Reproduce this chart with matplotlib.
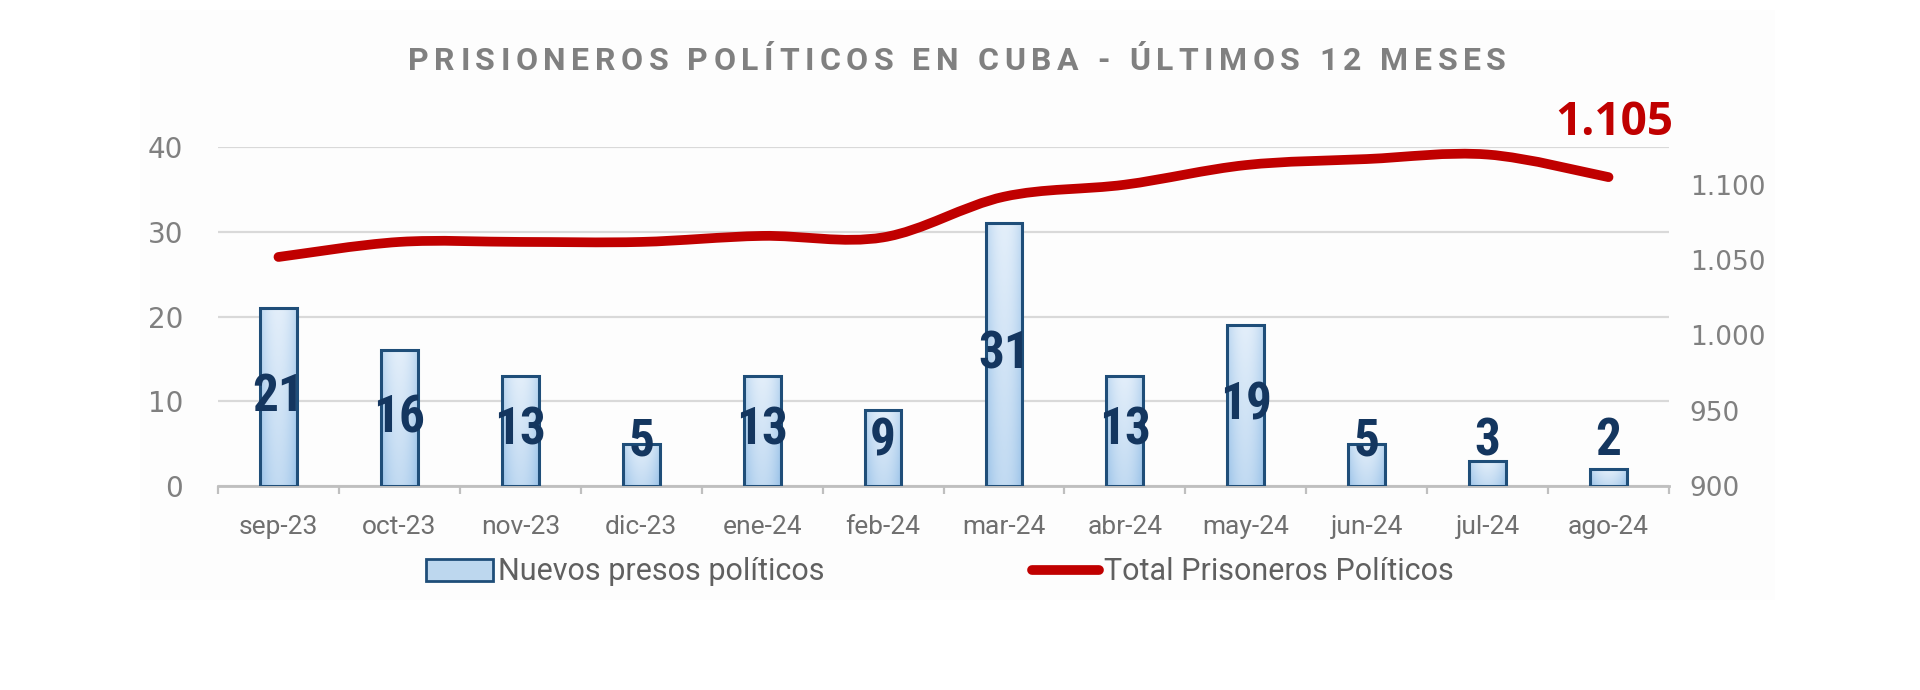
import numpy as np
import matplotlib
matplotlib.use("Agg")
import matplotlib.pyplot as plt
from matplotlib import font_manager as fm
from matplotlib.path import Path
from matplotlib.patches import PathPatch, Rectangle
from matplotlib.lines import Line2D
from matplotlib.ticker import FuncFormatter

# ---------------- data ----------------
meses = ["sep-23", "oct-23", "nov-23", "dic-23", "ene-24", "feb-24",
         "mar-24", "abr-24", "may-24", "jun-24", "jul-24", "ago-24"]
nuevos = [21, 16, 13, 5, 13, 9, 31, 13, 19, 5, 3, 2]
total = [1052, 1062, 1062, 1062, 1066, 1065, 1092, 1100, 1113, 1117, 1120, 1105]
titulo = "PRISIONEROS POLÍTICOS EN CUBA - ÚLTIMOS 12 MESES"
serie_barras = "Nuevos presos políticos"
serie_linea = "Total Prisoneros Políticos"
ticks_izq = [0, 10, 20, 30, 40]
ticks_der = [900, 950, 1000, 1050, 1100]

# ---------------- fonts ----------------
available = {f.name for f in fm.fontManager.ttflist}


def pick(*names):
    for n in names:
        if n in available:
            return n
    return "DejaVu Sans"


F_MAIN = pick("Roboto", "Open Sans", "DejaVu Sans")
F_NARROW = pick("Liberation Sans Narrow", "Roboto Condensed", "Roboto")
F_NUM = pick("DejaVu Sans")
F_RED = pick("Open Sans", "Roboto")

GREY_TXT = "#808080"
GRID = "#d9d9d9"
AXIS = "#bfbfbf"
NAVY = "#1f4e79"
LABEL = "#14365f"
RED = "#c00000"
BAR_FILL = "#bdd7ee"

W, H = 1920, 690
fig = plt.figure(figsize=(W / 100, H / 100), dpi=100)
fig.patch.set_facecolor("white")

# very light panel behind the chart
fig.add_artist(Rectangle((140 / W, 1 - 600 / H), (1775 - 140) / W, (600 - 10) / H,
                         transform=fig.transFigure, facecolor="#fdfdfd",
                         edgecolor="none", zorder=0))

ax = fig.add_axes([218 / W, 1 - 486 / H, (1669 - 218) / W, (486 - 147) / H])
ax.set_facecolor("none")
x = np.arange(len(meses))
bw = 0.305

bars = ax.bar(x, nuevos, width=bw, color=BAR_FILL, edgecolor="none", zorder=2)

# gradient fill inside bars
u = np.linspace(-1, 1, 40)[None, :]
v = np.linspace(0, 1, 80)[:, None]
t = np.clip(0.55 * u ** 2 + 0.45 * v, 0, 1)[..., None]
light = np.array([0.89, 0.935, 0.98])
dark = np.array([0.60, 0.76, 0.91])
grad = light * (1 - t) + dark * t
for rect in bars:
    x0, w_, h_ = rect.get_x(), rect.get_width(), rect.get_height()
    im = ax.imshow(grad, extent=(x0, x0 + w_, 0, h_), aspect="auto",
                   origin="upper", interpolation="bicubic", zorder=2.1)
    im.set_clip_path(rect)
ax.bar(x, nuevos, width=bw, facecolor="none", edgecolor=NAVY, linewidth=2.2, zorder=3)

for xi, val in zip(x, nuevos):
    ax.text(xi, max(val / 2, 5.3), str(val), ha="center", va="center",
            fontsize=37, fontweight="bold", family=F_NARROW, color=LABEL, zorder=5)

ax.set_xlim(-0.5, len(meses) - 0.5)
ax.set_ylim(0, 40)
ax.set_yticks(ticks_izq)
ax.yaxis.grid(True, color=GRID, linewidth=1.6)
ax.set_axisbelow(True)
for s in ("top", "left", "right"):
    ax.spines[s].set_visible(False)
ax.spines["bottom"].set_color(AXIS)
ax.spines["bottom"].set_linewidth(2)
ax.set_xticks(x)
ax.set_xticklabels(meses)
ax.set_xticks(np.arange(-0.5, len(meses), 1), minor=True)
ax.tick_params(axis="x", which="major", length=0, pad=21, labelsize=19,
               labelcolor="#6f6f6f")
ax.tick_params(axis="x", which="minor", length=6, width=1.6, color=AXIS)
ax.tick_params(axis="y", length=0, pad=25, labelsize=20, labelcolor=GREY_TXT)
for lab in ax.get_xticklabels():
    lab.set_family(F_MAIN)
for lab in ax.get_yticklabels():
    lab.set_family(F_NUM)

ax2 = ax.twinx()
ax2.set_ylim(900, 1125)
ax2.set_yticks(ticks_der)
ax2.yaxis.set_major_formatter(FuncFormatter(lambda val, p: f"{int(val):,}".replace(",", ".")))
for s in ("top", "left", "right", "bottom"):
    ax2.spines[s].set_visible(False)
ax2.tick_params(axis="y", length=0, pad=15, labelsize=19, labelcolor=GREY_TXT)
for lab in ax2.get_yticklabels():
    lab.set_family(F_NUM)

# smoothed line (Bezier through data points)
pts = np.column_stack([x, total]).astype(float)
n = len(pts)
verts = [tuple(pts[0])]
codes = [Path.MOVETO]
for i in range(n - 1):
    p0 = pts[max(i - 1, 0)]
    p1 = pts[i]
    p2 = pts[i + 1]
    p3 = pts[min(i + 2, n - 1)]
    c1 = p1 + (p2 - p0) / 6
    c2 = p2 - (p3 - p1) / 6
    verts += [tuple(c1), tuple(c2), tuple(p2)]
    codes += [Path.CURVE4] * 3
ax2.add_patch(PathPatch(Path(verts, codes), facecolor="none", edgecolor=RED,
                        linewidth=7, capstyle="round", joinstyle="round", zorder=4))

ax2.annotate(f"{total[-1]:,}".replace(",", "."), xy=(x[-1], total[-1]),
             xytext=(4, 39), textcoords="offset points", ha="center", va="center",
             fontsize=33, fontweight="bold", color=RED, family=F_RED,
             annotation_clip=False)

# legend
h_bar = Rectangle((0, 0), 1, 1, facecolor=BAR_FILL, edgecolor=NAVY, linewidth=2)
h_line = Line2D([], [], color=RED, linewidth=7, solid_capstyle="round")
fig.legend([h_bar, h_line], [serie_barras, serie_linea], loc="center",
           bbox_to_anchor=(940 / W, 1 - 572 / H), ncol=2, frameon=False,
           prop=dict(family=F_MAIN, size=22), labelcolor="#606060",
           handlelength=2.2, handleheight=0.7, handletextpad=0.15,
           columnspacing=6.8)

# letter-spaced title
fp = fm.FontProperties(family=F_MAIN, weight="bold", size=23)
font = fm.get_font(fm.findfont(fp))
font.set_size(23, 100)
adv = []
for ch in titulo:
    g = font.load_char(ord(ch))
    adv.append(g.linearHoriAdvance / 65536)
target = 1098
sp = (target - sum(adv)) / (len(titulo) - 1)
xp = 957 - target / 2
for ch, a in zip(titulo, adv):
    fig.text(xp / W, 1 - 61 / H, ch, fontproperties=fp, color=GREY_TXT,
             ha="left", va="center")
    xp += a + sp

fig.savefig("out.png", dpi=100, facecolor="white")
